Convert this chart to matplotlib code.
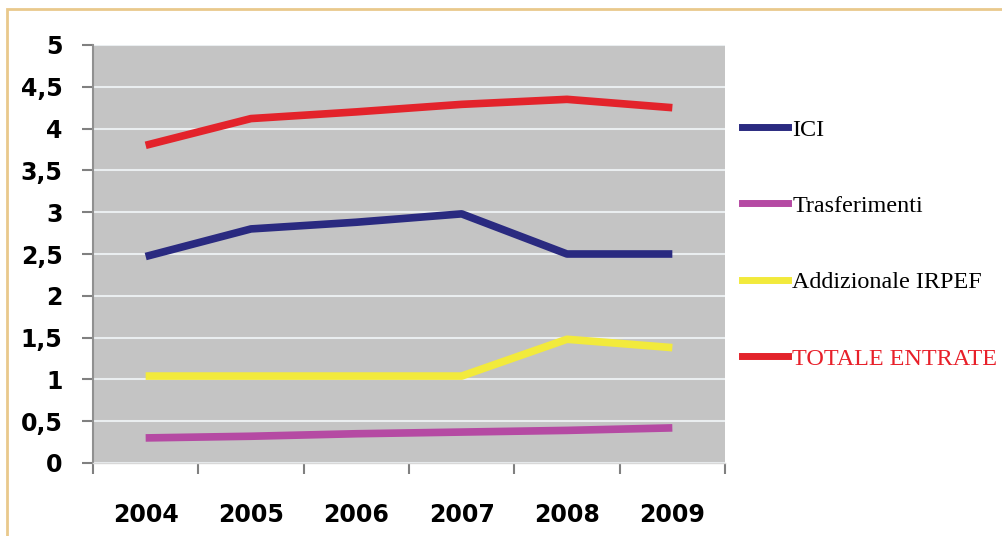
import matplotlib
matplotlib.use("Agg")
import matplotlib.pyplot as plt
from matplotlib.patches import Rectangle
from matplotlib.lines import Line2D

years = ["2004", "2005", "2006", "2007", "2008", "2009"]
ici = [2.47, 2.8, 2.88, 2.98, 2.5, 2.5]
trasferimenti = [0.3, 0.32, 0.35, 0.37, 0.39, 0.42]
addizionale = [1.04, 1.04, 1.04, 1.04, 1.48, 1.38]
totale = [3.8, 4.12, 4.2, 4.29, 4.35, 4.25]
series_names = ["ICI", "Trasferimenti", "Addizionale IRPEF", "TOTALE ENTRATE"]
series_colors = ["#2a2a80", "#b54aa3", "#f2ea3c", "#e3232b"]
y_ticks = [0, 0.5, 1, 1.5, 2, 2.5, 3, 3.5, 4, 4.5, 5]

fig = plt.figure(figsize=(10.02, 5.36), dpi=100)
fig.patch.set_facecolor("white")

# orange frame
fig.patches.append(Rectangle((7 / 1002, -0.1), 1.2, 1 - 9 / 536 + 0.1,
                             transform=fig.transFigure, fill=False,
                             edgecolor="#e9c98c", linewidth=2.0))

ax = fig.add_axes([93 / 1002, 1 - 463 / 536, 632 / 1002, 418 / 536])
ax.set_facecolor("#c4c4c4")
x = list(range(len(years)))
for vals, name, col in zip([ici, trasferimenti, addizionale, totale],
                           series_names, series_colors):
    ax.plot(x, vals, color=col, linewidth=5.5, solid_capstyle="butt",
            solid_joinstyle="round", label=name)

ax.set_xlim(-0.5, len(years) - 0.5)
ax.set_ylim(0, 5)
ax.set_yticks(y_ticks)
ax.set_yticklabels([("%g" % v).replace(".", ",") for v in y_ticks],
                   fontsize=17, fontweight="bold", family="DejaVu Sans")
ax.set_xticks(x)
ax.set_xticklabels(years, fontsize=17, fontweight="bold", family="DejaVu Sans")
ax.set_xticks([i - 0.5 for i in range(len(years) + 1)], minor=True)
ax.tick_params(axis="x", which="major", length=0, pad=29)
ax.tick_params(axis="x", which="minor", length=8, color="#808080", width=1.5)
ax.tick_params(axis="y", length=8, color="#808080", width=1.5, pad=14)
ax.grid(axis="y", color="#eaeef0", linewidth=1.5)
ax.set_axisbelow(True)
for s in ["top", "right"]:
    ax.spines[s].set_visible(False)
ax.spines["left"].set_color("#909090")
ax.spines["left"].set_linewidth(1.5)
ax.spines["bottom"].set_color("#d8d8d8")
ax.spines["bottom"].set_linewidth(1.0)

leg_handles = [Line2D([0], [0], color=c, linewidth=5) for c in series_colors]
leg = fig.legend(leg_handles, series_names, loc="upper left",
                 bbox_to_anchor=(720 / 1002, 1 - 97 / 536),
                 frameon=False, prop={"family": "Liberation Serif", "size": 17.4},
                 handlelength=1.9, handletextpad=0.2, labelspacing=2.25)
leg.get_texts()[3].set_color("#e8202a")

fig.savefig("out.png", dpi=100)
